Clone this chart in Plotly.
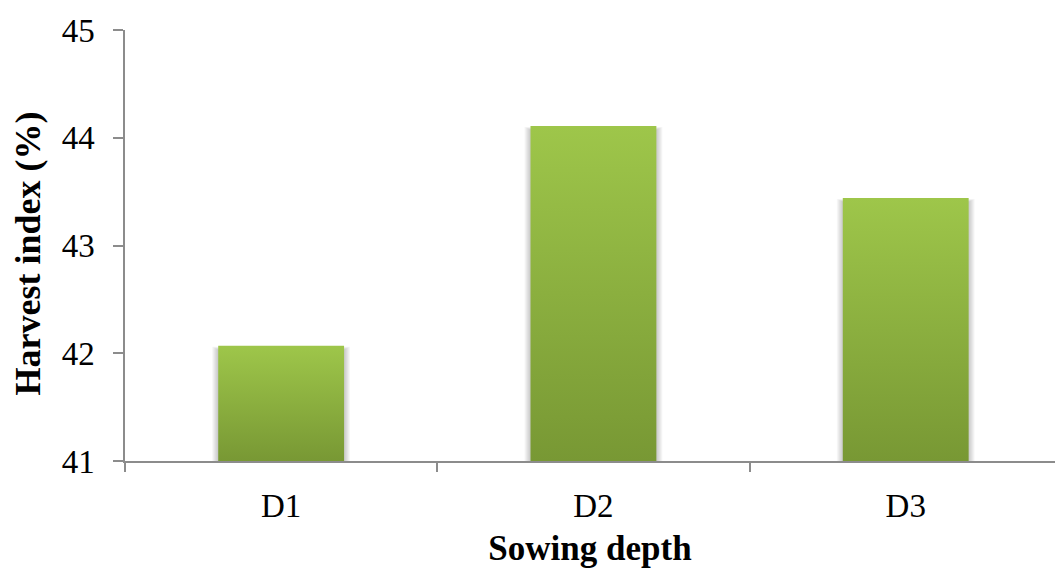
import plotly.graph_objects as go

# Harvest index by sowing depth
categories = ["D1", "D2", "D3"]
harvest_index = [42.07, 44.11, 43.44]
y_ticks = [41, 42, 43, 44, 45]

# figure geometry
W, H = 1055, 568
M_L, M_R, M_T, M_B = 125, 0, 29.5, 107.3
Y_MIN, Y_MAX = 41, 45
X_MIN, X_MAX = -0.5, 2.478
BAR_WIDTH = 0.403

# size of one screen pixel in data units (used for the soft shadow)
px_x = (X_MAX - X_MIN) / (W - M_L - M_R)
px_y = (Y_MAX - Y_MIN) / (H - M_T - M_B)

BAR_TOP = "rgb(158,198,74)"
BAR_BOTTOM = "rgb(120,152,52)"
AXIS_GREY = "#8c8c8c"
FONT = "Liberation Serif"

fig = go.Figure()

for i, (cat, val) in enumerate(zip(categories, harvest_index)):
    x0, x1 = i - BAR_WIDTH / 2, i + BAR_WIDTH / 2

    # soft drop shadow, built from a few translucent layers
    for k in range(1, 7):
        sx0, sx1 = x0 - k * px_x, x1 + k * px_x
        top = val - 4 * px_y + k * 0.5 * px_y
        fig.add_trace(go.Scatter(
            x=[sx0, sx0, sx1, sx1, sx0],
            y=[Y_MIN, top, top, Y_MIN, Y_MIN],
            mode="lines", line=dict(width=0),
            fill="toself", fillcolor="rgba(0,0,0,0.035)",
            hoverinfo="skip", showlegend=False,
        ))

    # the bar itself with a vertical gradient
    fig.add_trace(go.Scatter(
        x=[x0, x0, x1, x1, x0],
        y=[Y_MIN, val, val, Y_MIN, Y_MIN],
        mode="lines", line=dict(width=0),
        fill="toself",
        fillgradient=dict(type="vertical",
                          colorscale=[[0, BAR_BOTTOM], [1, BAR_TOP]]),
        name=cat, hovertemplate=f"{cat}: {val}<extra></extra>",
        showlegend=False,
    ))

fig.update_layout(
    width=W, height=H,
    margin=dict(l=M_L, r=M_R, t=M_T, b=M_B),
    paper_bgcolor="white", plot_bgcolor="white",
    font=dict(family=FONT, color="black"),
    showlegend=False,
    annotations=[dict(
        text="<b>Harvest index (%)</b>", textangle=-90,
        xref="paper", yref="paper",
        x=(28 - M_L) / (W - M_L - M_R),
        y=(H - M_B - 253) / (H - M_T - M_B),
        xanchor="center", yanchor="middle", showarrow=False,
        font=dict(size=36, family=FONT, color="black"),
    )],
)

fig.update_xaxes(
    range=[X_MIN, X_MAX],
    tickmode="array", tickvals=list(range(len(categories))), ticktext=categories,
    ticks="", ticklabelstandoff=14,
    tickfont=dict(size=33, family=FONT, color="black"),
    minor=dict(tickmode="array",
               tickvals=[i - 0.5 for i in range(len(categories) + 1)],
               ticks="outside", ticklen=9, tickwidth=1.5, tickcolor=AXIS_GREY),
    showline=True, linecolor=AXIS_GREY, linewidth=2,
    showgrid=False, zeroline=False,
    title=dict(text="<b>Sowing depth</b>", standoff=18,
               font=dict(size=35, family=FONT, color="black")),
)

fig.update_yaxes(
    range=[Y_MIN, Y_MAX],
    tickmode="array", tickvals=y_ticks,
    ticks="outside", ticklen=10, tickwidth=1.5, tickcolor=AXIS_GREY,
    ticklabelstandoff=12,
    tickfont=dict(size=33, family=FONT, color="black"),
    showline=True, linecolor=AXIS_GREY, linewidth=1.5,
    showgrid=False, zeroline=False,
)

fig.write_html("out.html")
